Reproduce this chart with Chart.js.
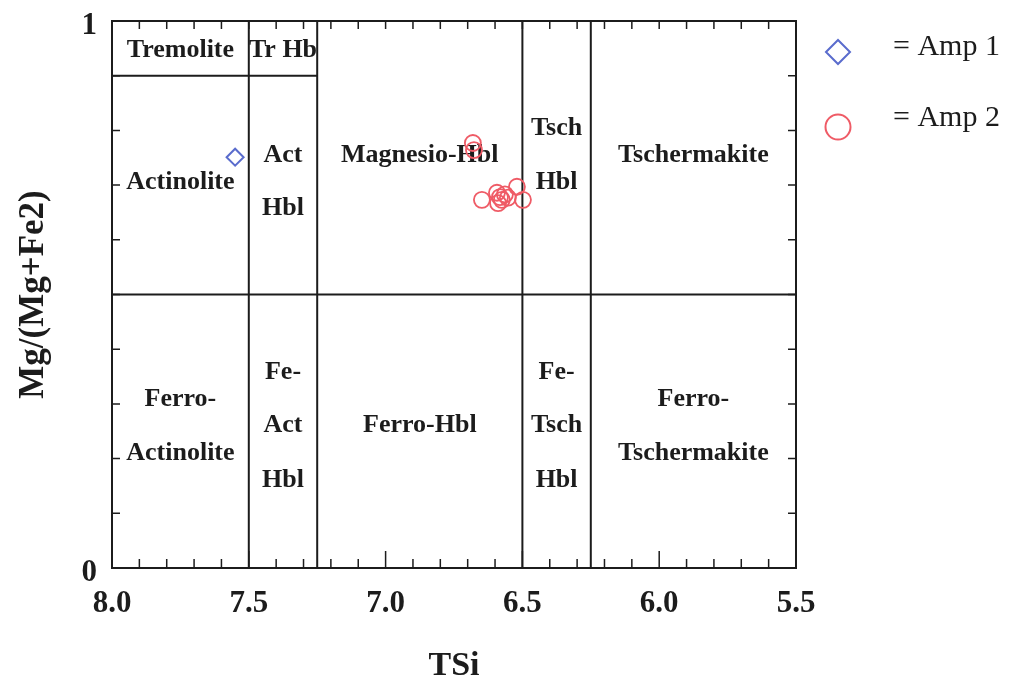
<!DOCTYPE html>
<html>
<head>
<meta charset="utf-8">
<script src="https://cdn.jsdelivr.net/npm/chart.js@4.4.1/dist/chart.umd.min.js"></script>
<style>
  body { margin: 0; background: #fff; }
  canvas { display: block; }
</style>
</head>
<body>
<canvas id="chart" width="1015" height="683"></canvas>
<script>
// data
const tsiAmp1 = [7.55];
const mgAmp1 = [0.751];
const tsiAmp2 = [6.681, 6.677, 6.648, 6.593, 6.582, 6.564, 6.575, 6.589, 6.520, 6.498, 6.553];
const mgAmp2 = [0.777, 0.764, 0.673, 0.686, 0.678, 0.683, 0.673, 0.667, 0.697, 0.673, 0.677];

const xTicks = [8.0, 7.5, 7.0, 6.5, 6.0, 5.5];
const yTicks = [0, 1];

// field boundaries (TSi, Mg#)
const vBounds = [7.5, 7.25, 6.5, 6.25];
const hBounds = [[8.0, 5.5, 0.5], [8.0, 7.25, 0.9]];

// field names: [text, TSi, Mg#]
const fieldNames = [
  ["Tremolite", 7.75, 0.947], ["Tr Hb", 7.375, 0.947],
  ["Actinolite", 7.75, 0.706],
  ["Act", 7.375, 0.755], ["Hbl", 7.375, 0.658],
  ["Magnesio-Hbl", 6.875, 0.755],
  ["Tsch", 6.375, 0.804], ["Hbl", 6.375, 0.706],
  ["Tschermakite", 5.875, 0.755],
  ["Ferro-", 7.75, 0.309], ["Actinolite", 7.75, 0.210],
  ["Fe-", 7.375, 0.358], ["Act", 7.375, 0.260], ["Hbl", 7.375, 0.161],
  ["Ferro-Hbl", 6.875, 0.260],
  ["Fe-", 6.375, 0.358], ["Tsch", 6.375, 0.260], ["Hbl", 6.375, 0.161],
  ["Ferro-", 5.875, 0.309], ["Tschermakite", 5.875, 0.210]
];

const serif = "'Liberation Serif', 'Times New Roman', serif";
const ink = "#1c1c1c";
const blue = "#5a6ccd";
const red = "#ef5b66";

const diagram = {
  id: "diagram",
  beforeDatasetsDraw(chart) {
    const ctx = chart.ctx;
    const xs = chart.scales.x, ys = chart.scales.y;
    const a = chart.chartArea;
    ctx.save();
    ctx.strokeStyle = ink;
    ctx.lineWidth = 2;

    // frame
    ctx.strokeRect(a.left, a.top, a.right - a.left, a.bottom - a.top);

    // field boundaries
    ctx.beginPath();
    vBounds.forEach(v => {
      const px = xs.getPixelForValue(v);
      ctx.moveTo(px, a.top);
      ctx.lineTo(px, a.bottom);
    });
    hBounds.forEach(h => {
      const py = ys.getPixelForValue(h[2]);
      ctx.moveTo(xs.getPixelForValue(h[0]), py);
      ctx.lineTo(xs.getPixelForValue(h[1]), py);
    });
    ctx.stroke();

    // inward ticks
    ctx.lineWidth = 1.5;
    ctx.beginPath();
    for (let i = 1; i < 25; i++) {
      const v = 8 - i * 0.1;
      const px = xs.getPixelForValue(v);
      const major = i % 5 === 0;
      ctx.moveTo(px, a.bottom);
      ctx.lineTo(px, a.bottom - (major ? 17 : 9));
      ctx.moveTo(px, a.top);
      ctx.lineTo(px, a.top + 8);
    }
    for (let i = 1; i < 10; i++) {
      const py = ys.getPixelForValue(i * 0.1);
      ctx.moveTo(a.left, py);
      ctx.lineTo(a.left + 8, py);
      ctx.moveTo(a.right, py);
      ctx.lineTo(a.right - 8, py);
    }
    ctx.stroke();

    // field names
    ctx.fillStyle = ink;
    ctx.font = "bold 26px " + serif;
    ctx.textAlign = "center";
    ctx.textBaseline = "middle";
    fieldNames.forEach(f => {
      ctx.fillText(f[0], xs.getPixelForValue(f[1]), ys.getPixelForValue(f[2]));
    });
    ctx.restore();
  },
  afterDraw(chart) {
    // legend on the right
    const ctx = chart.ctx;
    ctx.save();
    ctx.lineWidth = 2;
    ctx.strokeStyle = blue;
    ctx.fillStyle = "rgba(0,0,0,0)";
    Chart.helpers.drawPoint(ctx, { pointStyle: "rectRot", radius: 12, borderWidth: 2 }, 838, 52);
    ctx.strokeStyle = red;
    Chart.helpers.drawPoint(ctx, { pointStyle: "circle", radius: 12.5, borderWidth: 2 }, 838, 127);
    ctx.fillStyle = ink;
    ctx.font = "30px " + serif;
    ctx.textAlign = "left";
    ctx.textBaseline = "middle";
    ctx.fillText("= Amp 1", 893, 47);
    ctx.fillText("= Amp 2", 893, 118);
    ctx.restore();
  }
};

new Chart(document.getElementById("chart"), {
  type: "scatter",
  data: {
    datasets: [
      {
        label: "Amp 1",
        data: tsiAmp1.map((x, i) => ({ x: x, y: mgAmp1[i] })),
        pointStyle: "rectRot",
        pointRadius: 8.5,
        borderColor: blue,
        backgroundColor: "rgba(0,0,0,0)",
        borderWidth: 2
      },
      {
        label: "Amp 2",
        data: tsiAmp2.map((x, i) => ({ x: x, y: mgAmp2[i] })),
        pointStyle: "circle",
        pointRadius: 8,
        borderColor: red,
        backgroundColor: "rgba(0,0,0,0)",
        borderWidth: 1.8
      }
    ]
  },
  options: {
    responsive: false,
    animation: false,
    devicePixelRatio: 1,
    layout: { padding: { top: 21, right: 219, left: 0, bottom: 0 } },
    plugins: { legend: { display: false }, tooltip: { enabled: false } },
    scales: {
      x: {
        type: "linear",
        reverse: true,
        min: 5.5,
        max: 8.0,
        afterBuildTicks: s => { s.ticks = xTicks.map(v => ({ value: v })); },
        afterFit: s => { s.height = 115; s.paddingLeft = 0; s.paddingRight = 0; },
        grid: { display: false, drawTicks: false },
        border: { display: false },
        ticks: {
          padding: 17,
          color: ink,
          font: { family: serif, size: 31, weight: "bold" },
          callback: v => Number(v).toFixed(1)
        },
        title: {
          display: true,
          text: "TSi",
          color: ink,
          padding: 0,
          font: { family: serif, size: 34, weight: "bold", lineHeight: 1 }
        }
      },
      y: {
        type: "linear",
        min: 0,
        max: 1,
        afterBuildTicks: s => { s.ticks = yTicks.map(v => ({ value: v })); },
        afterFit: s => { s.width = 112; s.paddingTop = 0; s.paddingBottom = 0; },
        grid: { display: false, drawTicks: false },
        border: { display: false },
        ticks: {
          padding: 15,
          labelOffset: 5,
          color: ink,
          font: { family: serif, size: 31, weight: "bold" }
        },
        title: {
          display: true,
          text: "Mg/(Mg+Fe2)",
          color: ink,
          padding: { top: 16, bottom: 0 },
          font: { family: serif, size: 35, weight: "bold", lineHeight: 1 }
        }
      }
    }
  },
  plugins: [diagram]
});
</script>
</body>
</html>
